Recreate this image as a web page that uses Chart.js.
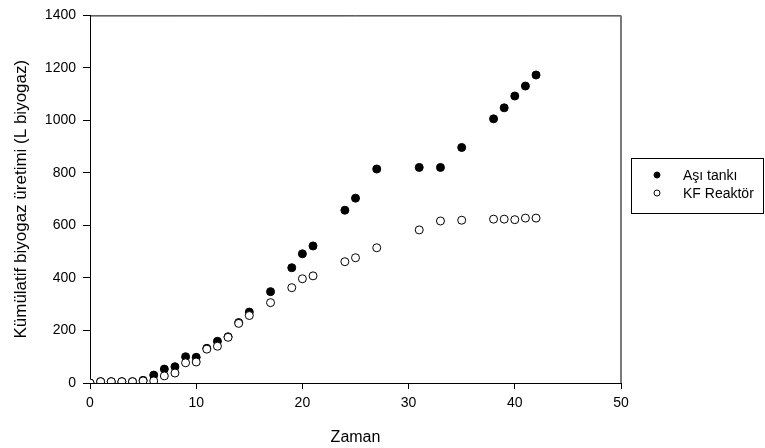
<!DOCTYPE html>
<html>
<head>
<meta charset="utf-8">
<script src="https://cdn.jsdelivr.net/npm/chart.js@4/dist/chart.umd.min.js"></script>
<style>
  html, body { margin: 0; padding: 0; background: #fff; }
  #wrap { width: 765px; height: 448px; position: relative; }
</style>
</head>
<body>
<div id="wrap"><canvas id="c" width="765" height="448"></canvas></div>
<script>
const days = [0,1,2,3,4,5,6,7,8,9,10,11,12,13,14,15,17,19,20,21,24,25,27,31,33,35,38,39,40,41,42];
const asiTanki = [0,5,5,5,5,10,30,53,62,100,98,132,159,176,230,270,348,439,492,522,658,704,815,821,821,897,1006,1048,1093,1131,1173];
const kfReaktor = [0,5,5,5,5,8,8,27,38,77,80,129,140,174,227,257,306,363,397,408,462,477,515,583,617,620,624,624,622,628,628];
const seriesLabels = ['Aşı tankı', 'KF Reaktör'];
const xTitle = 'Zaman';
const yTitle = 'Kümülatif biyogaz üretimi (L biyogaz)';

const FONT = "'Liberation Sans', Arial, sans-serif";

const toPts = (vals) => days.map((d, i) => ({ x: d, y: vals[i] }));

const framePlugin = {
  id: 'frame',
  afterDraw(chart) {
    const { ctx, chartArea: a } = chart;
    ctx.save();
    ctx.lineWidth = 1;
    ctx.strokeStyle = '#000';
    ctx.beginPath();
    ctx.moveTo(a.left, a.top + 0.5);
    ctx.lineTo(a.right, a.top + 0.5);
    ctx.stroke();
    ctx.strokeStyle = '#7a7a7a';
    ctx.lineWidth = 2;
    ctx.beginPath();
    ctx.moveTo(a.right, a.top);
    ctx.lineTo(a.right, a.bottom);
    ctx.stroke();
    ctx.restore();
  }
};

const legendBoxPlugin = {
  id: 'legendBox',
  afterDraw(chart) {
    const { ctx } = chart;
    const bx = 631.5, by = 158.5, bw = 132, bh = 55;
    ctx.save();
    ctx.strokeStyle = '#000';
    ctx.lineWidth = 1;
    ctx.strokeRect(bx, by, bw, bh);
    ctx.font = '14px ' + FONT;
    ctx.textBaseline = 'middle';
    ctx.textAlign = 'left';
    chart.data.datasets.forEach((ds, i) => {
      const cy = 175 + i * 18;
      ctx.beginPath();
      ctx.arc(657, cy, 3, 0, Math.PI * 2);
      ctx.fillStyle = ds.backgroundColor;
      ctx.fill();
      ctx.lineWidth = 1;
      ctx.strokeStyle = '#000';
      ctx.stroke();
      ctx.fillStyle = '#000';
      ctx.fillText(ds.label, 683, cy + 1);
    });
    ctx.restore();
  }
};

const plainTick = (v) => String(v);

new Chart(document.getElementById('c'), {
  type: 'scatter',
  data: {
    datasets: [
      {
        label: seriesLabels[0],
        data: toPts(asiTanki),
        backgroundColor: '#000',
        borderColor: '#000',
        borderWidth: 1,
        pointRadius: 4,
        order: 1
      },
      {
        label: seriesLabels[1],
        data: toPts(kfReaktor),
        backgroundColor: '#fff',
        borderColor: '#000',
        borderWidth: 1,
        pointRadius: 4,
        order: 0
      }
    ]
  },
  options: {
    responsive: false,
    animation: false,
    layout: { padding: { top: 13, right: 144, left: 0, bottom: 0 } },
    plugins: {
      legend: { display: false },
      tooltip: { enabled: false }
    },
    scales: {
      x: {
        type: 'linear',
        min: 0, max: 50,
        ticks: { stepSize: 10, color: '#000', font: { family: FONT, size: 14 }, padding: 6, maxRotation: 0, callback: plainTick },
        grid: { drawOnChartArea: false, drawTicks: true, tickLength: 6, color: '#000', lineWidth: 1 },
        border: { color: '#000', width: 1 },
        title: { display: true, text: xTitle, color: '#000', font: { family: FONT, size: 16 }, padding: { top: 0, bottom: 1 } },
        afterFit(scale) { scale.height = 65; }
      },
      y: {
        type: 'linear',
        min: 0, max: 1400,
        ticks: { stepSize: 200, color: '#000', font: { family: FONT, size: 14 }, padding: 7, callback: plainTick },
        grid: { drawOnChartArea: false, drawTicks: true, tickLength: 7, color: '#000', lineWidth: 1 },
        border: { color: '#000', width: 1 },
        title: { display: true, text: yTitle, color: '#000', font: { family: FONT, size: 17 }, padding: { top: 11, bottom: 0 } },
        afterFit(scale) { scale.width = 90; }
      }
    }
  },
  plugins: [framePlugin, legendBoxPlugin]
});
</script>
</body>
</html>
